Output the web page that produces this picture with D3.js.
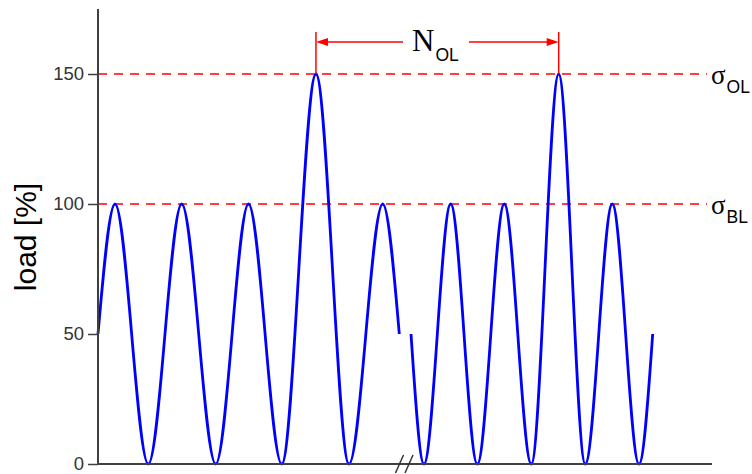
<!DOCTYPE html>
<html>
<head>
<meta charset="utf-8">
<script src="https://cdn.jsdelivr.net/npm/d3@7"></script>
<style>
  html, body { margin: 0; padding: 0; background: #fff; }
  svg { display: block; }
</style>
</head>
<body>
<svg id="chart" width="752" height="474"></svg>
<script>
// ---- data ----
const yTicks = [0, 50, 100, 150];
// first block of cycles (time in arbitrary units along the x axis)
const seg1Time = [0, 2.77, 8.19, 13.63, 19.17, 24.51, 29.92, 35.50, 40.88, 46.37, 49.07];
const seg1Load = [50, 100, 0, 100, 0, 100, 0, 150, 0, 100, 50];
// second block of cycles (after the axis break)
const seg2Time = [50.98, 53.09, 57.44, 61.78, 66.17, 70.57, 75.03, 79.36, 83.76, 88.11, 90.34];
const seg2Load = [50, 0, 100, 0, 100, 0, 150, 0, 100, 0, 50];
const levelValues = [150, 100];
const levelSymbols = ["σ", "σ"];
const levelSubs = ["OL", "BL"];
const breakTime = 50.0;
const intervalStart = 35.50, intervalEnd = 75.03; // overload peaks
const intervalLabel = "N", intervalSub = "OL";
const yLabel = "load [%]";

// ---- layout ----
const svg = d3.select("#chart");
const x = d3.scaleLinear().domain([0, 100]).range([98, 712]);
const y = d3.scaleLinear().domain([0, 175]).range([464, 9]);
const axisColor = "#404040";
const sans = "'Liberation Sans', Arial, Helvetica, sans-serif";
const serif = "'Liberation Serif', 'Times New Roman', Times, serif";

// reference levels (dashed red)
svg.append("g").selectAll("line").data(levelValues).join("line")
  .attr("x1", x(0)).attr("x2", 707)
  .attr("y1", d => y(d)).attr("y2", d => y(d))
  .attr("stroke", "#ff0000").attr("stroke-width", 1.5)
  .attr("stroke-dasharray", "9,7");

// level labels
const lv = svg.append("g").selectAll("text").data(levelValues).join("text")
  .attr("x", 711).attr("y", d => y(d) + 9.5)
  .attr("fill", "#000");
lv.append("tspan").attr("font-family", serif).attr("font-size", 27)
  .text((d, i) => levelSymbols[i]);
lv.append("tspan").attr("font-family", sans).attr("font-size", 17.5)
  .attr("dx", 1).attr("dy", 9.5)
  .text((d, i) => levelSubs[i]);

// the load signal
const line = d3.line().x(d => x(d[0])).y(d => y(d[1])).curve(d3.curveMonotoneX);
const segs = [
  d3.zip(seg1Time, seg1Load),
  d3.zip(seg2Time, seg2Load)
];
svg.append("g").selectAll("path").data(segs).join("path")
  .attr("d", line)
  .attr("fill", "none")
  .attr("stroke", "#0000ff")
  .attr("stroke-width", 2.8)
  .attr("stroke-linejoin", "round");

// y axis
const yAxis = d3.axisLeft(y).tickValues(yTicks).tickSize(10).tickPadding(4);
const gy = svg.append("g").attr("transform", `translate(${x(0)},0)`).call(yAxis);
gy.select(".domain").attr("stroke", axisColor).attr("stroke-width", 2)
  .attr("d", `M0,${y(175)}V${y(0)}`);
gy.selectAll(".tick line").attr("stroke", axisColor).attr("stroke-width", 1.5);
gy.selectAll(".tick text").attr("font-family", sans).attr("font-size", 18.5).attr("fill", "#333");

// x axis (no ticks)
svg.append("line")
  .attr("x1", x(0) - 1).attr("x2", x(100))
  .attr("y1", y(0)).attr("y2", y(0))
  .attr("stroke", axisColor).attr("stroke-width", 2);

// axis break marks
const bx = x(breakTime);
[-5.5, 4].forEach(off => {
  svg.append("line")
    .attr("x1", bx + off - 4).attr("y1", y(0) + 9)
    .attr("x2", bx + off + 4).attr("y2", y(0) - 9)
    .attr("stroke", "#333").attr("stroke-width", 1.5);
});

// y label
svg.append("text")
  .attr("transform", `translate(35.5,237) rotate(-90)`)
  .attr("text-anchor", "middle")
  .attr("font-family", sans).attr("font-size", 30)
  .attr("fill", "#000")
  .text(yLabel);

// N_OL interval annotation
const xa = x(intervalStart), xb = x(intervalEnd), ay = 42;
const red = "#ff0000";
[xa, xb].forEach(xx => {
  svg.append("line").attr("x1", xx).attr("x2", xx)
    .attr("y1", 32).attr("y2", y(150))
    .attr("stroke", red).attr("stroke-width", 1.5);
});
svg.append("line").attr("x1", xa + 10).attr("x2", 403).attr("y1", ay).attr("y2", ay)
  .attr("stroke", red).attr("stroke-width", 1.5);
svg.append("line").attr("x1", 469).attr("x2", xb - 10).attr("y1", ay).attr("y2", ay)
  .attr("stroke", red).attr("stroke-width", 1.5);
svg.append("path")
  .attr("d", `M${xa},${ay}L${xa + 12},${ay - 4}L${xa + 12},${ay + 4}Z`)
  .attr("fill", red);
svg.append("path")
  .attr("d", `M${xb},${ay}L${xb - 12},${ay - 4}L${xb - 12},${ay + 4}Z`)
  .attr("fill", red);
const nt = svg.append("text").attr("x", 412).attr("y", 51).attr("fill", "#000");
nt.append("tspan").attr("font-family", serif).attr("font-size", 31).text(intervalLabel);
nt.append("tspan").attr("font-family", sans).attr("font-size", 17.5)
  .attr("dx", 1).attr("dy", 10).text(intervalSub);
</script>
</body>
</html>
